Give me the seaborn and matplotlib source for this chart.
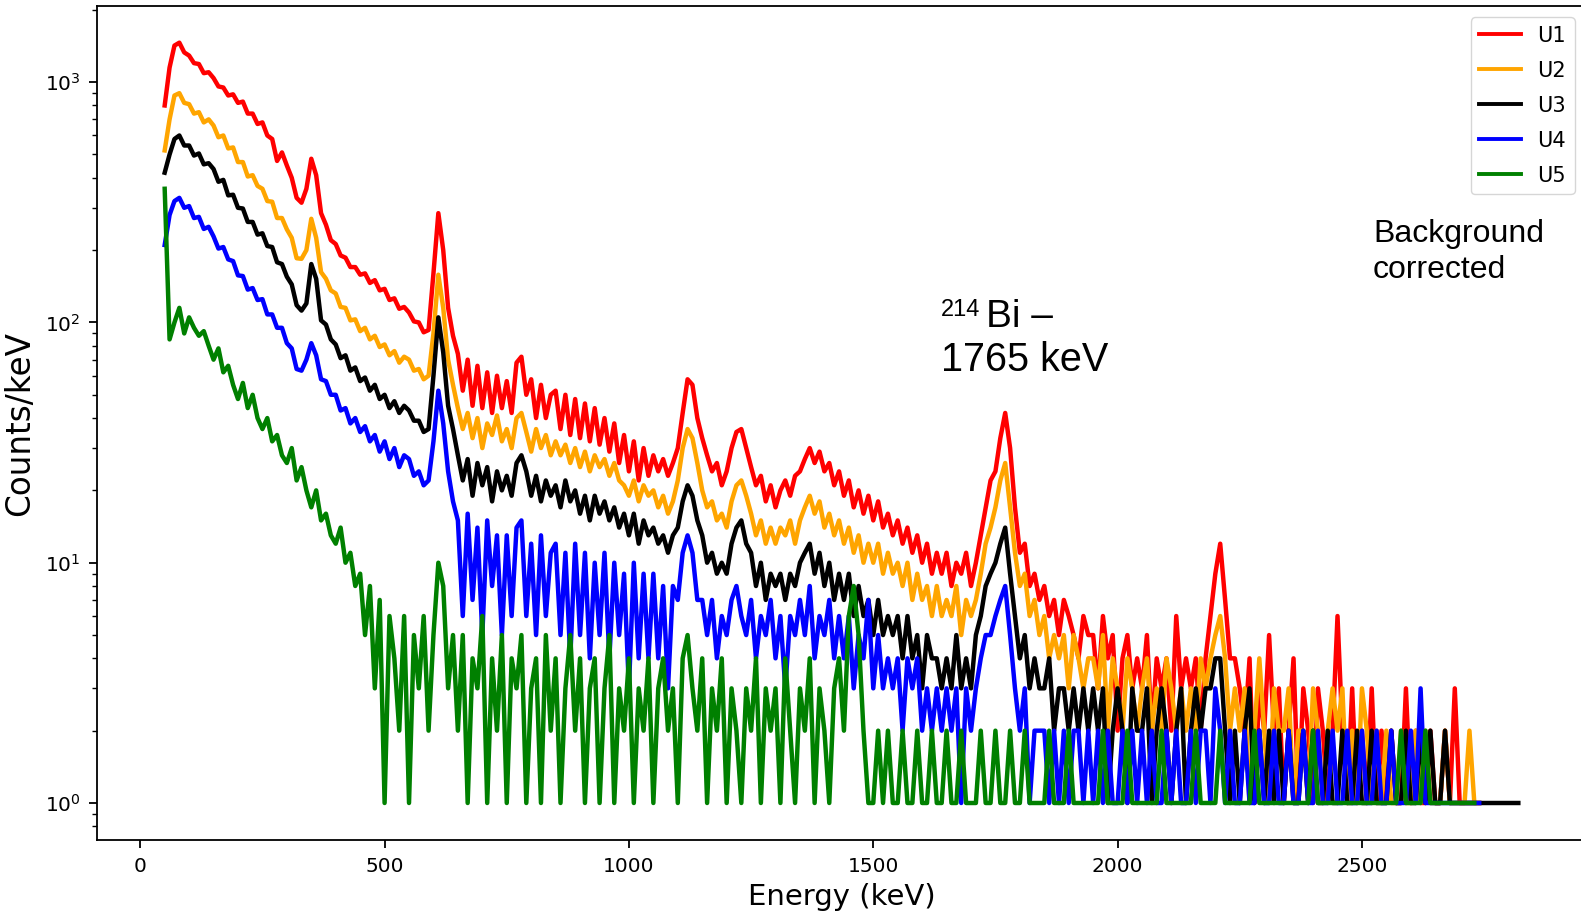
import numpy as np
import pandas as pd
import matplotlib
matplotlib.use("Agg")
import matplotlib.pyplot as plt
import seaborn as sns

# ---------------- data (10 keV bins) ----------------
bin_start_keV = 50
bin_width_keV = 10
detectors = ["U1", "U2", "U3", "U4", "U5"]
colors = ["red", "orange", "black", "blue", "green"]

u1 = [800, 1150, 1420, 1460, 1330, 1290, 1200, 1190, 1090, 1100,
      1040, 960, 950, 880, 890, 820, 830, 740, 740, 670,
      680, 600, 580, 470, 510, 450, 400, 330, 315, 360,
      480, 410, 285, 255, 220, 212, 190, 186, 170, 170,
      158, 160, 146, 150, 136, 138, 124, 126, 114, 116,
      110, 101, 100, 91, 93, 160, 285, 200, 115, 88,
      74, 52, 70, 45, 66, 44, 62, 42, 60, 44,
      57, 42, 68, 72, 50, 58, 40, 55, 40, 50,
      52, 36, 50, 34, 48, 33, 46, 32, 44, 31,
      40, 29, 38, 26, 34, 24, 32, 22, 30, 23,
      28, 24, 27, 23, 26, 30, 42, 58, 55, 40,
      33, 28, 24, 26, 21, 24, 30, 35, 36, 30,
      25, 21, 23, 18, 21, 17, 20, 22, 19, 23,
      24, 27, 30, 26, 29, 24, 26, 21, 24, 19,
      22, 17, 20, 16, 19, 15, 18, 14, 16, 13,
      15, 12, 14, 11, 13, 10, 12, 9, 11, 9,
      11, 8, 10, 9, 11, 8, 10, 13, 17, 22,
      24, 33, 42, 30, 17, 11, 12, 8, 9, 7,
      8, 6, 7, 5, 7, 6, 5, 4, 6, 5,
      5, 3, 6, 4, 5, 2, 4, 5, 3, 4,
      3, 5, 2, 4, 3, 4, 2, 6, 3, 4,
      3, 4, 2, 4, 6, 9, 12, 7, 4, 4,
      3, 2, 4, 1, 3, 2, 5, 2, 3, 1,
      2, 4, 1, 3, 2, 1, 3, 2, 1, 2,
      6, 2, 1, 3, 1, 2, 1, 3, 1, 2,
      1, 2, 1, 1, 3, 1, 2, 1, 1, 2,
      1, 1, 2, 1, 3, 1, 1, 1, 1, 1]

u2 = [520, 700, 880, 900, 820, 810, 740, 750, 680, 700,
      660, 590, 600, 530, 535, 465, 465, 405, 410, 370,
      360, 320, 318, 272, 272, 244, 225, 185, 184, 200,
      270, 225, 162, 152, 136, 132, 116, 115, 102, 103,
      92, 95, 85, 88, 79, 81, 73, 76, 68, 72,
      70, 63, 64, 58, 60, 90, 158, 115, 70, 55,
      44, 36, 42, 33, 40, 30, 38, 34, 41, 32,
      36, 30, 40, 42, 35, 29, 36, 30, 34, 28,
      32, 28, 31, 26, 30, 25, 29, 24, 28, 25,
      27, 23, 26, 22, 21, 19, 22, 18, 21, 19,
      20, 17, 19, 16, 18, 22, 30, 36, 33, 26,
      20, 17, 18, 15, 16, 14, 18, 21, 22, 19,
      16, 13, 15, 12, 14, 12, 14, 13, 15, 12,
      15, 17, 19, 16, 18, 14, 16, 13, 15, 12,
      14, 11, 13, 10, 12, 10, 12, 9, 11, 9,
      10, 8, 10, 7, 9, 7, 8, 6, 8, 6,
      7, 6, 8, 5, 7, 6, 7, 9, 12, 14,
      17, 22, 26, 17, 11, 8, 9, 6, 7, 5,
      6, 4, 5, 4, 5, 3, 5, 4, 3, 4,
      4, 3, 5, 2, 4, 3, 2, 4, 3, 2,
      3, 4, 2, 3, 2, 4, 3, 2, 3, 2,
      3, 2, 4, 3, 4, 5, 6, 4, 2, 3,
      2, 3, 1, 2, 4, 2, 1, 3, 2, 2,
      3, 1, 2, 2, 1, 3, 2, 1, 2, 3,
      2, 3, 1, 2, 1, 3, 2, 1, 2, 1,
      2, 1, 1, 2, 1, 1, 2, 1, 2, 1,
      1, 1, 2, 1, 1, 1, 1, 2, 1, 1]

u3 = [420, 500, 580, 600, 545, 545, 495, 505, 455, 460,
      435, 385, 392, 338, 340, 300, 298, 262, 262, 232,
      235, 208, 206, 178, 175, 155, 144, 118, 112, 120,
      175, 152, 102, 98, 85, 81, 71, 73, 63, 65,
      57, 59, 52, 55, 48, 50, 44, 47, 42, 45,
      43, 39, 39, 35, 36, 60, 105, 75, 45, 36,
      28, 22, 27, 19, 26, 21, 25, 18, 24, 20,
      23, 19, 26, 28, 24, 19, 23, 18, 22, 19,
      21, 17, 22, 18, 20, 16, 19, 15, 19, 16,
      18, 15, 17, 14, 16, 13, 16, 12, 15, 13,
      14, 12, 13, 11, 13, 14, 18, 21, 19, 15,
      13, 10, 11, 9, 10, 9, 12, 14, 15, 12,
      11, 8, 10, 7, 9, 8, 9, 7, 9, 8,
      10, 11, 12, 9, 11, 8, 10, 7, 9, 7,
      9, 6, 8, 6, 7, 5, 7, 5, 6, 5,
      6, 4, 6, 4, 5, 3, 5, 4, 4, 3,
      4, 3, 5, 3, 4, 3, 5, 6, 8, 9,
      10, 12, 14, 9, 6, 4, 5, 3, 4, 3,
      3, 4, 2, 3, 3, 2, 3, 2, 3, 2,
      3, 2, 3, 1, 2, 3, 2, 1, 3, 2,
      2, 3, 1, 2, 3, 2, 1, 2, 3, 1,
      2, 3, 2, 3, 3, 4, 4, 2, 1, 2,
      1, 2, 3, 1, 2, 1, 2, 1, 2, 1,
      2, 1, 1, 2, 1, 2, 1, 1, 2, 1,
      1, 2, 1, 1, 2, 1, 1, 2, 1, 1,
      1, 2, 1, 1, 2, 1, 1, 2, 1, 2,
      1, 1, 2, 1, 1, 1, 1, 1, 1, 1,
      1, 1, 1, 1, 1, 1, 1, 1]

u4 = [210, 280, 320, 330, 300, 305, 272, 275, 245, 250,
      228, 203, 206, 183, 180, 157, 156, 137, 139, 124,
      125, 108, 108, 95, 95, 82, 78, 64, 63, 70,
      82, 73, 58, 57, 50, 50, 43, 44, 38, 40,
      35, 37, 32, 34, 29, 32, 27, 30, 25, 28,
      27, 23, 24, 21, 22, 32, 52, 38, 24, 18,
      15, 6, 16, 7, 14, 5, 15, 8, 13, 5,
      13, 6, 14, 15, 6, 12, 5, 13, 6, 11,
      12, 5, 11, 4, 12, 5, 11, 4, 10, 5,
      11, 4, 10, 5, 9, 3, 10, 4, 9, 4,
      9, 4, 8, 3, 8, 7, 11, 13, 11, 7,
      7, 5, 7, 4, 6, 5, 7, 8, 6, 5,
      7, 4, 6, 5, 7, 4, 6, 3, 6, 5,
      7, 5, 8, 4, 6, 5, 7, 4, 6, 4,
      6, 3, 5, 4, 7, 3, 5, 3, 4, 3,
      4, 2, 4, 3, 4, 2, 3, 2, 3, 2,
      3, 2, 3, 1, 3, 2, 3, 4, 5, 5,
      6, 7, 8, 5, 3, 2, 3, 1, 2, 2,
      2, 1, 2, 1, 2, 1, 2, 2, 1, 2,
      1, 2, 1, 2, 1, 1, 2, 1, 2, 1,
      2, 1, 2, 1, 1, 2, 1, 2, 1, 1,
      2, 1, 2, 2, 1, 3, 2, 1, 2, 1,
      1, 2, 1, 1, 2, 1, 1, 2, 1, 1,
      2, 1, 1, 2, 1, 1, 2, 1, 1, 2,
      1, 1, 2, 1, 1, 2, 1, 1, 2, 1,
      1, 2, 1, 1, 1, 2, 1, 3, 1, 1,
      1, 1, 1, 1, 1, 1, 1, 1, 1, 1]

u5 = [360, 85, 100, 115, 90, 105, 95, 88, 92, 80,
      70, 78, 62, 66, 55, 48, 56, 44, 50, 40,
      36, 40, 32, 34, 28, 26, 30, 22, 25, 20,
      17, 20, 15, 16, 13, 12, 14, 10, 11, 8,
      9, 5, 8, 3, 7, 1, 6, 4, 2, 6,
      1, 5, 3, 6, 2, 5, 10, 8, 3, 5,
      2, 5, 1, 4, 3, 6, 1, 4, 2, 5,
      1, 4, 3, 5, 1, 3, 4, 1, 5, 2,
      4, 1, 3, 5, 2, 4, 1, 3, 4, 1,
      3, 5, 1, 3, 2, 4, 1, 3, 2, 4,
      1, 3, 4, 2, 3, 1, 4, 5, 3, 2,
      4, 1, 3, 2, 4, 1, 3, 2, 1, 3,
      2, 4, 1, 3, 2, 3, 1, 4, 2, 1,
      3, 2, 4, 1, 3, 2, 1, 3, 4, 2,
      6, 8, 5, 2, 1, 1, 2, 1, 2, 1,
      1, 2, 1, 1, 2, 1, 1, 2, 1, 1,
      2, 1, 1, 2, 1, 1, 1, 2, 1, 1,
      2, 1, 1, 2, 1, 1, 2, 1, 1, 1,
      1, 2, 1, 1, 1, 2, 1, 1, 1, 1,
      1, 1, 2, 1, 1, 1, 1, 2, 1, 1,
      1, 1, 1, 1, 2, 1, 1, 1, 1, 1,
      1, 2, 1, 1, 1, 1, 2, 1, 1, 1,
      1, 1, 1, 2, 1, 1, 1, 1, 1, 1,
      1, 1, 1, 1, 1, 2, 1, 1, 1, 1,
      1, 1, 1, 1, 1, 1, 1, 1, 1, 1,
      1, 1, 1, 2, 1, 1, 1, 1, 2, 1,
      1, 1, 1, 1, 1, 1, 1, 1, 1]

series = [u1, u2, u3, u4, u5]

# ---------------- long-format table ----------------
frames = []
for name, vals in zip(detectors, series):
    e = bin_start_keV + bin_width_keV * np.arange(len(vals))
    frames.append(pd.DataFrame({"Energy": e, "Counts": vals, "Detector": name}))
df = pd.concat(frames, ignore_index=True)

# ---------------- figure ----------------
W, H = 1581, 921
fig = plt.figure(figsize=(W / 100, H / 100), dpi=100)
ax = fig.add_axes([97 / W, 81 / H, (1586 - 97) / W, (840 - 6) / H])

sns.lineplot(data=df, x="Energy", y="Counts", hue="Detector",
             hue_order=detectors, palette=colors, estimator=None,
             sort=False, linewidth=3.2, ax=ax)

ax.set_yscale("log")
ax.set_xlim(-88.5, 2958.5)
ax.set_ylim(10 ** -0.154, 10 ** 3.317)
ax.set_xticks([0, 500, 1000, 1500, 2000, 2500])

ax.set_xlabel("Energy (keV)", fontsize=21, labelpad=5)
ax.set_ylabel("Counts/keV", fontsize=23.5, labelpad=6)
ax.tick_params(axis="both", which="major", labelsize=14.5, length=6, width=1.3, pad=6)
ax.tick_params(axis="both", which="minor", length=3.5, width=1.0)
for s in ax.spines.values():
    s.set_linewidth(1.3)

old = ax.get_legend()
handles = old.legend_handles
labs = [t.get_text() for t in old.get_texts()]
for h in handles:
    h.set_linewidth(2.8)
ax.legend(handles, labs, loc="upper right", fontsize=15, handlelength=2.0,
          labelspacing=0.72, borderaxespad=0.55)

# ---------------- annotations ----------------
def ftext(x, y, s, size):
    fig.text(x / W, 1 - y / H, s, fontsize=size, family="Liberation Sans",
             ha="left", va="baseline", color="black")

ftext(1373, 242, "Background", 23)
ftext(1373, 278, "corrected", 23)
ftext(941, 316, "214", 17)
ftext(986, 327, "Bi \u2013", 28)
ftext(941, 371, "1765 keV", 28.5)

fig.savefig("out.png", dpi=100)
